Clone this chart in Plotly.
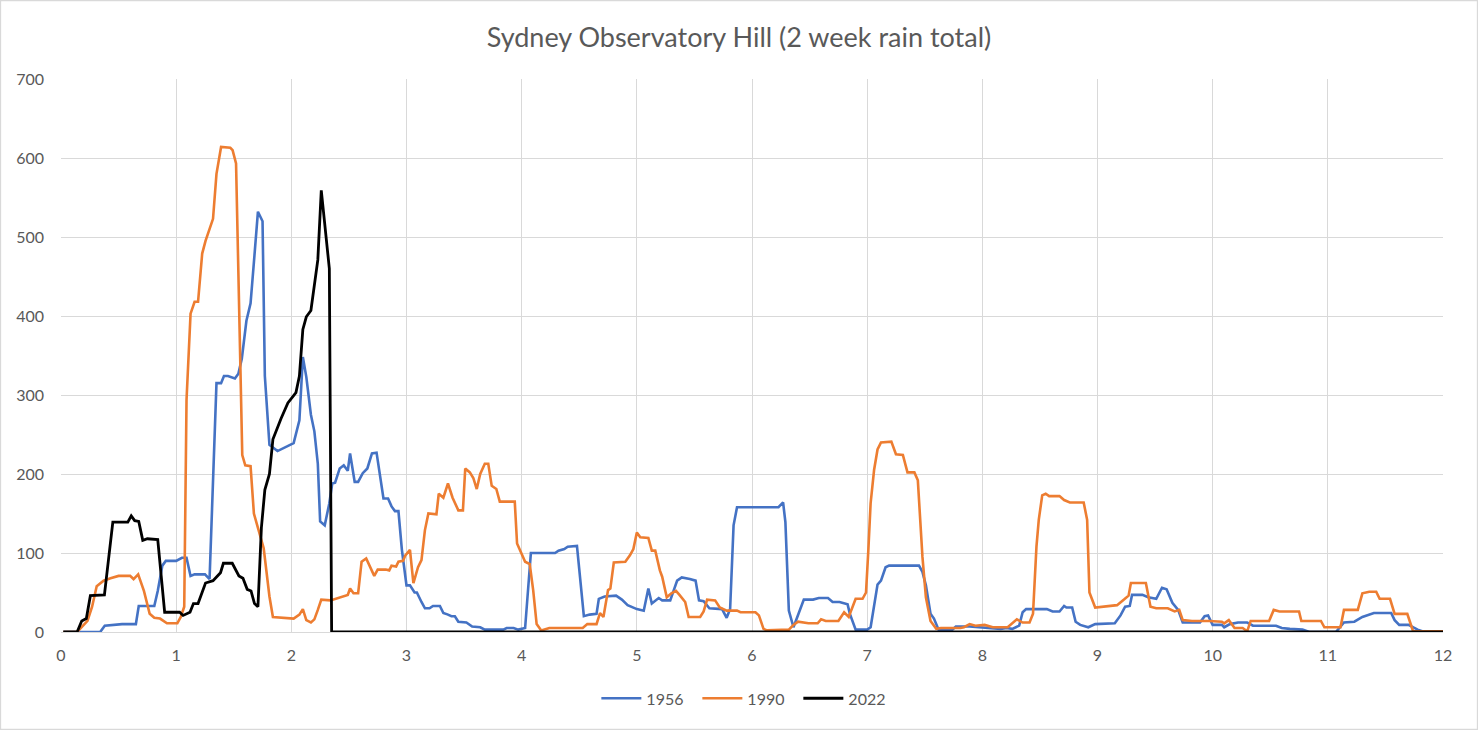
import plotly.graph_objs as go

# 2 week rolling rain totals (mm), x = month of year
x_1956 = [0.02, 0.34, 0.38, 0.5, 0.53, 0.65, 0.675, 0.81, 0.84, 0.88, 0.91, 1.0, 1.05, 1.09, 1.125, 1.16,
          1.25, 1.29, 1.33, 1.35, 1.39, 1.415, 1.45, 1.51, 1.54, 1.57, 1.61, 1.646, 1.68, 1.71, 1.75, 1.77,
          1.81, 1.88, 2.02, 2.07, 2.1, 2.13, 2.17, 2.2, 2.23, 2.25, 2.29, 2.33, 2.355, 2.38, 2.42, 2.455,
          2.49, 2.51, 2.55, 2.58, 2.62, 2.66, 2.7, 2.74, 2.8, 2.84, 2.87, 2.9, 2.93, 2.96, 3.0, 3.03, 3.07,
          3.09, 3.13, 3.16, 3.2, 3.23, 3.29, 3.32, 3.36, 3.39, 3.42, 3.45, 3.52, 3.57, 3.64, 3.68, 3.84,
          3.87, 3.93, 3.97, 4.03, 4.08, 4.29, 4.32, 4.37, 4.4, 4.48, 4.54, 4.59, 4.65, 4.67, 4.72, 4.82,
          4.87, 4.92, 5.0, 5.06, 5.1, 5.13, 5.19, 5.22, 5.29, 5.35, 5.39, 5.46, 5.51, 5.54, 5.58, 5.63,
          5.74, 5.78, 5.81, 5.84, 5.87, 5.94, 6.23, 6.27, 6.29, 6.32, 6.36, 6.45, 6.53, 6.58, 6.66, 6.7,
          6.76, 6.83, 6.85, 6.9, 7.0, 7.03, 7.06, 7.09, 7.12, 7.16, 7.19, 7.45, 7.48, 7.51, 7.55, 7.58,
          7.62, 7.74, 7.77, 7.89, 7.97, 8.09, 8.16, 8.21, 8.26, 8.32, 8.35, 8.38, 8.56, 8.61, 8.67, 8.71,
          8.73, 8.78, 8.81, 8.85, 8.92, 8.98, 9.15, 9.2, 9.24, 9.28, 9.3, 9.39, 9.44, 9.51, 9.56, 9.6,
          9.65, 9.7, 9.74, 9.89, 9.93, 9.96, 10.0, 10.08, 10.1, 10.15, 10.22, 10.3, 10.35, 10.55, 10.6,
          10.67, 10.78, 10.84, 11.07, 11.14, 11.23, 11.3, 11.4, 11.55, 11.58, 11.62, 11.7, 11.78, 11.84, 12.0]
y_1956 = [0, 0, 8, 9, 10, 10, 33, 33, 52, 84, 90, 90, 94, 94, 71, 73,
          73, 67, 237, 315, 315, 324, 324, 321, 327, 346, 394, 416, 477, 532, 520, 324,
          237, 229, 239, 268, 348, 323, 275, 254, 213, 140, 135, 163, 188, 189, 207, 211,
          204, 226, 190, 190, 201, 207, 226, 227, 169, 169, 159, 153, 153, 104, 59, 59, 50,
          50, 38, 30, 30, 33, 33, 24, 22, 20, 20, 13, 12, 7, 6, 3, 3,
          5, 5, 3, 5, 100, 100, 103, 105, 108, 109, 20, 22, 23, 42, 45, 46,
          41, 34, 29, 27, 55, 36, 43, 40, 40, 65, 69, 67, 65, 40, 39, 30,
          29, 18, 29, 135, 158, 158, 158, 164, 139, 27, 6, 41, 41, 43, 43, 38,
          38, 35, 23, 3, 3, 6, 31, 60, 65, 82, 84, 84, 76, 59, 23, 17,
          3, 3, 7, 7, 6, 5, 4, 5, 4, 8, 25, 29, 29, 26, 26, 33,
          31, 31, 13, 9, 6, 10, 11, 21, 32, 33, 47, 47, 44, 42, 56, 54,
          37, 28, 12, 12, 20, 21, 9, 9, 6, 10, 12, 12, 8, 8, 5,
          4, 3, 0, 0, 12, 13, 19, 24, 24, 15, 9, 9, 3, 0, 0]

x_1990 = [0.02, 0.14, 0.23, 0.27, 0.31, 0.37, 0.43, 0.5, 0.6, 0.63, 0.67, 0.72, 0.77, 0.81, 0.86, 0.92,
          1.01, 1.04, 1.07, 1.09, 1.125, 1.16, 1.19, 1.226, 1.255, 1.32, 1.35, 1.39, 1.47, 1.49, 1.52,
          1.574, 1.6, 1.646, 1.675, 1.72, 1.76, 1.81, 1.84, 2.02, 2.07, 2.1, 2.13, 2.17, 2.2, 2.23, 2.26,
          2.34, 2.4, 2.455, 2.49, 2.51, 2.54, 2.58, 2.61, 2.65, 2.72, 2.75, 2.82, 2.85, 2.87, 2.91, 2.93,
          2.97, 2.99, 3.03, 3.06, 3.1, 3.13, 3.16, 3.19, 3.26, 3.28, 3.32, 3.36, 3.4, 3.45, 3.49, 3.51,
          3.55, 3.58, 3.61, 3.64, 3.68, 3.71, 3.74, 3.78, 3.81, 3.94, 3.96, 4.0, 4.03, 4.07, 4.1, 4.13,
          4.17, 4.24, 4.53, 4.57, 4.65, 4.68, 4.71, 4.75, 4.77, 4.8, 4.9, 4.94, 4.97, 5.0, 5.03, 5.1,
          5.13, 5.16, 5.2, 5.22, 5.26, 5.3, 5.34, 5.37, 5.42, 5.45, 5.55, 5.58, 5.61, 5.68, 5.72, 5.78,
          5.87, 5.9, 6.03, 6.06, 6.1, 6.13, 6.32, 6.36, 6.4, 6.49, 6.57, 6.6, 6.64, 6.75, 6.8, 6.84,
          6.87, 6.9, 6.96, 6.99, 7.01, 7.03, 7.06, 7.09, 7.12, 7.21, 7.25, 7.31, 7.35, 7.41, 7.44, 7.48,
          7.51, 7.55, 7.6, 7.64, 7.81, 7.84, 7.89, 7.94, 8.02, 8.09, 8.22, 8.26, 8.3, 8.35, 8.41, 8.44,
          8.47, 8.49, 8.52, 8.55, 8.58, 8.67, 8.71, 8.76, 8.88, 8.91, 8.93, 8.98, 9.11, 9.17, 9.23, 9.27,
          9.29, 9.42, 9.46, 9.51, 9.61, 9.67, 9.71, 9.74, 9.82, 9.97, 10.08, 10.1, 10.14, 10.19, 10.26,
          10.3, 10.33, 10.49, 10.53, 10.58, 10.75, 10.77, 10.94, 10.97, 11.11, 11.14, 11.26, 11.3, 11.36,
          11.42, 11.45, 11.54, 11.58, 11.69, 11.74, 12.0]
y_1990 = [0, 0, 14, 32, 58, 65, 68, 71, 71, 67, 73, 52, 23, 18, 17, 11,
          11, 19, 32, 294, 403, 418, 418, 479, 495, 523, 580, 614, 613, 610, 593,
          224, 211, 210, 150, 128, 106, 45, 19, 17, 22, 29, 15, 12, 16, 28, 41,
          40, 43, 46, 47, 55, 49, 49, 89, 93, 71, 79, 79, 78, 84, 83, 89,
          90, 97, 104, 62, 82, 91, 129, 150, 149, 175, 170, 188, 170, 154, 154, 207,
          202, 195, 181, 200, 213, 213, 185, 181, 165, 165, 112, 99, 89, 86, 53, 10,
          2, 5, 5, 10, 10, 24, 19, 53, 55, 88, 89, 97, 105, 126, 120, 119,
          103, 103, 78, 70, 44, 49, 52, 47, 38, 19, 19, 26, 41, 40, 31, 27,
          27, 25, 25, 21, 4, 2, 3, 9, 13, 11, 11, 16, 14, 14, 25, 19,
          31, 42, 42, 50, 103, 163, 205, 231, 240, 241, 225, 224, 202, 202, 192, 95,
          44, 14, 4, 5, 5, 6, 10, 8, 9, 6, 6, 11, 16, 12, 12, 23,
          108, 142, 173, 175, 172, 172, 167, 164, 164, 142, 50, 31, 33, 34, 41, 46,
          62, 62, 32, 30, 30, 26, 28, 15, 14, 14, 13, 11, 15, 5, 5,
          1, 14, 14, 28, 26, 26, 14, 14, 6, 6, 28, 28, 49, 51,
          51, 42, 42, 23, 23, 1, 1]

x_2022 = [0.02, 0.14, 0.18, 0.22, 0.255, 0.377, 0.45, 0.58, 0.61, 0.64, 0.675, 0.71, 0.75, 0.84, 0.9,
          1.03, 1.06, 1.12, 1.15, 1.19, 1.255, 1.32, 1.385, 1.41, 1.487, 1.545, 1.58, 1.617, 1.65, 1.68,
          1.71, 1.74, 1.77, 1.81, 1.84, 1.86, 1.91, 1.97, 2.04, 2.07, 2.1, 2.13, 2.17, 2.23, 2.26, 2.33,
          2.35, 12.0]
y_2022 = [0, 0, 14, 17, 46, 47, 139, 139, 147, 141, 140, 116, 118, 117, 25,
          25, 21, 25, 36, 36, 62, 65, 75, 87, 87, 71, 68, 54, 52, 36,
          32, 132, 180, 200, 244, 252, 270, 290, 303, 324, 383, 399, 407, 471, 559, 460,
          0, 0]

FONT = "Lato, Carlito, Calibri, sans-serif"
GRID = "#D9D9D9"
TEXT = "#595959"


def plot_rain(width=1478, height=730):
    """Plot the three years of rain totals."""
    fig = go.Figure()
    series = [
        ("1956", x_1956, y_1956, "#4472C4", 2.6),
        ("1990", x_1990, y_1990, "#ED7D31", 2.6),
        ("2022", x_2022, y_2022, "#000000", 2.8),
    ]
    for name, xs, ys, colour, w in series:
        fig.add_trace(go.Scatter(x=xs, y=ys, mode="lines", name=name,
                                 line=dict(color=colour, width=w)))

    fig.update_layout(
        width=width,
        height=height,
        margin=dict(l=61, r=35, t=79, b=98),
        paper_bgcolor="white",
        plot_bgcolor="white",
        font=dict(family=FONT, color=TEXT, size=16),
        title=dict(text="Sydney Observatory Hill (2 week rain total)",
                   x=0.5, xanchor="center", y=0.948, yanchor="middle",
                   font=dict(size=27, color=TEXT, family=FONT)),
        xaxis=dict(range=[0, 12], dtick=1, showgrid=True, gridcolor=GRID, gridwidth=1.3,
                   zeroline=False, showline=True, linecolor=GRID, ticks="",
                   ticklabelstandoff=9, tickfont=dict(size=16, color=TEXT)),
        yaxis=dict(range=[0, 700], dtick=100, showgrid=True, gridcolor=GRID, gridwidth=1.3,
                   zeroline=False, showline=False, ticks="",
                   ticklabelstandoff=16, tickfont=dict(size=16, color=TEXT)),
        legend=dict(orientation="h", x=0.497, xanchor="center", y=-0.12, yanchor="middle",
                    font=dict(size=16, color=TEXT), itemwidth=40,
                    entrywidth=46, entrywidthmode="pixels"),
        showlegend=True,
    )
    # light border around the whole chart
    fig.add_shape(type="rect", xref="paper", yref="paper",
                  x0=-60.5 / 1382, x1=1 + 34.5 / 1382, y0=-97.5 / 553, y1=1 + 78.5 / 553,
                  line=dict(color=GRID, width=1.3))
    return fig


fig = plot_rain()
# drop the browser's default page margin so the chart sits at the top-left corner
fig.write_html("out.html", config={"displayModeBar": False},
               post_script="document.body.style.margin='0';")
